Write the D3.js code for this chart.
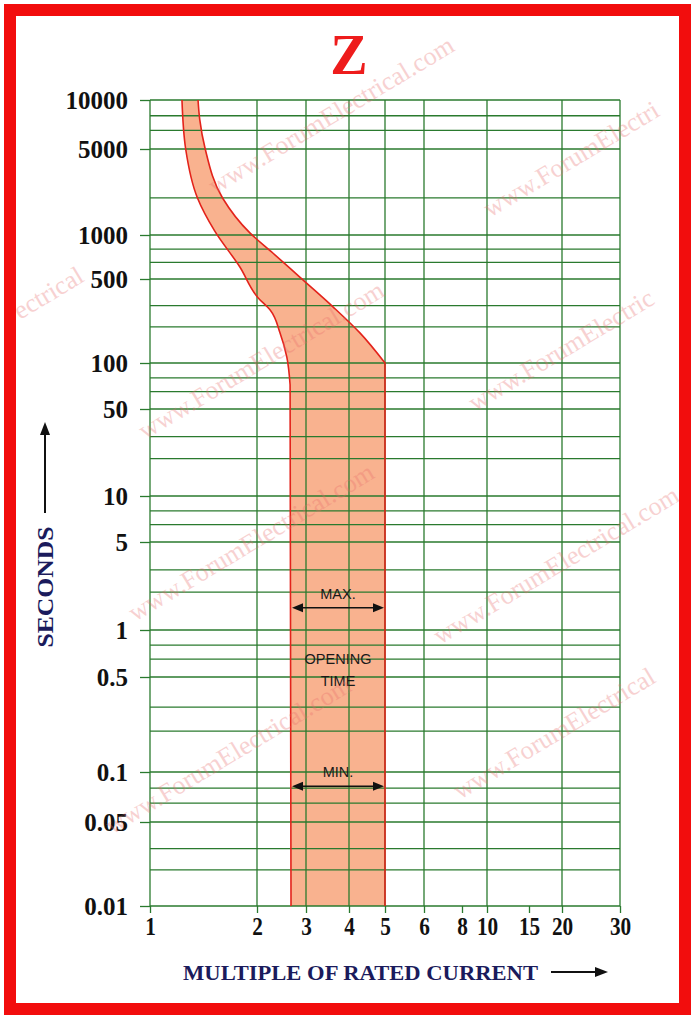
<html lang="en">
<head>
<meta charset="UTF-8">
<script src="https://d3js.org/d3.v7.min.js"></script>
<style>
  body { margin: 0; background: #fff; }
  svg { display: block; }
</style>
</head>
<body>
<div id="chart"></div>
<script>
// x axis: multiple of rated current
const xTicks = [1, 2, 3, 4, 5, 6, 8, 10, 15, 20, 30];
const xGrid = [1, 2, 3, 4, 5, 6, 10, 20, 30];
// y axis: seconds
const yTicks = [10000, 5000, 1000, 500, 100, 50, 10, 5, 1, 0.5, 0.1, 0.05, 0.01];
const yLabels = ["10000", "5000", "1000", "500", "100", "50", "10", "5", "1", "0.5", "0.1", "0.05", "0.01"];
const yGrid = [0.01, 0.02, 0.03, 0.05, 0.065, 0.08,
               0.1, 0.2, 0.3, 0.5, 0.65, 0.8,
               1, 2, 3, 5, 6.5, 8,
               10, 20, 30, 50, 65, 80,
               100, 200, 300, 500, 650, 800,
               1000, 2000, 5000, 6500, 8000, 10000];

// opening time band (Z curve)
const minCurrent = [1.23, 1.26, 1.36, 1.52, 1.79, 2.02, 2.23, 2.42, 2.56, 2.63, 2.65];
const minTime    = [10000, 5000, 2000, 1080, 604, 348, 276, 178, 112, 72, 0.01];
const maxCurrent = [1.365, 1.38, 1.43, 1.60, 1.91, 2.28, 2.85, 3.6, 4.28, 5, 5];
const maxTime    = [10000, 7600, 5000, 2000, 1040, 753, 515, 292, 178, 100, 0.01];

// annotation arrows (seconds)
const arrowTimes = [1.5, 0.082];
const arrowLabels = ["MAX.", "MIN."];

const W = 695, H = 1024;
const svg = d3.select("#chart").append("svg").attr("width", W).attr("height", H);
svg.append("rect").attr("width", W).attr("height", H).attr("fill", "#fff");

// piecewise log scales, chart paper is not a perfect log grid
const x = d3.scaleLog()
  .domain(xTicks)
  .range([150, 257, 306, 349, 385, 424, 462, 487, 529, 562, 620]);
const y = d3.scaleLog()
  .domain(yTicks)
  .range([100, 149, 235, 279, 363, 409, 496, 542, 630, 677, 772, 822, 906]);

const green = "#2a7a2e";

// band
const minPts = minCurrent.map((c, i) => [c, minTime[i]]);
const maxPts = maxCurrent.map((c, i) => [c, maxTime[i]]);
const edge = d3.line().x(d => x(d[0])).y(d => y(d[1])).curve(d3.curveMonotoneY);
function edgePath(pts) {
  const last = pts[pts.length - 1];
  return edge(pts.slice(0, -1)) + `L${x(last[0])},${y(last[1])}`;
}
const maxLast = maxPts[maxPts.length - 1];
const fillD = edgePath(minPts) + `L${x(maxLast[0])},${y(maxLast[1])}` +
  edge(maxPts.slice(0, -1).reverse()).replace(/^M/, "L") + "Z";

svg.append("path").attr("d", fillD).attr("fill", "#f9b28f");

// grid
const grid = svg.append("g").attr("stroke", green).attr("stroke-width", 1.3);
grid.selectAll(".h").data(yGrid).enter().append("line")
  .attr("x1", x(1)).attr("x2", x(30))
  .attr("y1", d => y(d)).attr("y2", d => y(d));
grid.selectAll(".v").data(xGrid).enter().append("line")
  .attr("x1", d => x(d)).attr("x2", d => x(d))
  .attr("y1", y(10000)).attr("y2", y(0.01));

// band edges on top of grid
svg.append("path").attr("d", edgePath(minPts)).attr("fill", "none")
  .attr("stroke", "#e3231b").attr("stroke-width", 1.6);
svg.append("path").attr("d", edgePath(maxPts)).attr("fill", "none")
  .attr("stroke", "#e3231b").attr("stroke-width", 1.6);

// axes
const yAxis = svg.append("g").attr("transform", `translate(${x(1)},0)`)
  .call(d3.axisLeft(y).tickValues(yTicks).tickSize(10).tickFormat((d, i) => yLabels[i]));
yAxis.select(".domain").remove();
yAxis.selectAll(".tick line").attr("stroke", green).attr("stroke-width", 1.3);
yAxis.selectAll(".tick text")
  .attr("x", -22).attr("dy", "0.34em")
  .attr("font-family", "'Liberation Serif', serif").attr("font-weight", "bold")
  .attr("font-size", 25).attr("fill", "#111");

const xAxis = svg.append("g").attr("transform", `translate(0,${y(0.01)})`)
  .call(d3.axisBottom(x).tickValues(xTicks).tickSize(7).tickFormat(d3.format("d")));
xAxis.select(".domain").remove();
xAxis.selectAll(".tick line").attr("stroke", green).attr("stroke-width", 1.3);
xAxis.selectAll(".tick text")
  .attr("y", null).attr("dy", null)
  .attr("transform", "translate(0,29) scale(0.85,1)")
  .attr("font-family", "'Liberation Serif', serif").attr("font-weight", "bold")
  .attr("font-size", 25).attr("fill", "#111");

// annotations inside band
const aX0 = x(minCurrent[minCurrent.length - 1]) + 1, aX1 = x(5) - 1;
const ann = svg.append("g");
arrowTimes.forEach((t, i) => {
  const ay = y(t);
  ann.append("line").attr("x1", aX0 + 8).attr("x2", aX1 - 8).attr("y1", ay).attr("y2", ay)
    .attr("stroke", "#111").attr("stroke-width", 1.5);
  ann.append("path").attr("d", `M${aX0},${ay}l11,-4.5v9z M${aX1},${ay}l-11,-4.5v9z`).attr("fill", "#111");
  ann.append("text").attr("x", (aX0 + aX1) / 2).attr("y", ay - 9)
    .attr("text-anchor", "middle").attr("font-family", "'Liberation Sans', Arial, sans-serif")
    .attr("font-size", 14.5).attr("fill", "#1a1a1a").text(arrowLabels[i]);
});
["OPENING", "TIME"].forEach((s, i) => {
  ann.append("text").attr("x", (aX0 + aX1) / 2).attr("y", 664 + i * 22)
    .attr("text-anchor", "middle").attr("font-family", "'Liberation Sans', Arial, sans-serif")
    .attr("font-size", 14.5).attr("fill", "#1a1a1a").text(s);
});

// title
svg.append("text").attr("x", 349).attr("y", 74).attr("text-anchor", "middle")
  .attr("font-family", "'Liberation Serif', serif").attr("font-weight", "bold")
  .attr("font-size", 56).attr("fill", "#ee1c1c").text("Z");

// axis titles
const navy = "#1b1b5c";
svg.append("text").attr("transform", "translate(53,587) rotate(-90)")
  .attr("text-anchor", "middle").attr("font-family", "'Liberation Serif', serif")
  .attr("font-weight", "bold").attr("font-size", 24).attr("fill", navy)
  .attr("textLength", 121).attr("lengthAdjust", "spacingAndGlyphs").text("SECONDS");
svg.append("line").attr("x1", 45).attr("x2", 45).attr("y1", 513).attr("y2", 432)
  .attr("stroke", "#111").attr("stroke-width", 2);
svg.append("path").attr("d", "M45,422l-5,13h10z").attr("fill", "#111");

svg.append("text").attr("x", 183).attr("y", 980)
  .attr("font-family", "'Liberation Serif', serif")
  .attr("font-weight", "bold").attr("font-size", 22).attr("fill", navy)
  .attr("textLength", 355).attr("lengthAdjust", "spacingAndGlyphs").text("MULTIPLE OF RATED CURRENT");
svg.append("line").attr("x1", 551).attr("x2", 597).attr("y1", 972).attr("y2", 972)
  .attr("stroke", "#111").attr("stroke-width", 2);
svg.append("path").attr("d", "M608,972l-13,-5v10z").attr("fill", "#111");

// watermarks (only the parts visible inside the frame)
const wmStarts = [[215, 195], [490, 218], [20, 320], [145, 440], [475, 412],
                  [135, 622], [440, 645], [112, 835], [460, 800]];
const wmTexts = ["www.ForumElectrical.com", "www.ForumElectri", "ectrical",
                 "www.ForumElectrical.com", "www.ForumElectric",
                 "www.ForumElectrical.com", "www.ForumElectrical.com",
                 "www.ForumElectrical.com", "www.ForumElectrical"];
svg.append("g").selectAll("text").data(wmStarts).enter().append("text")
  .attr("transform", d => `translate(${d[0]},${d[1]}) rotate(-31)`)
  .attr("font-family", "'Liberation Serif', serif").attr("font-size", 26)
  .attr("fill", "#e86a6a").attr("opacity", 0.3)
  .text((d, i) => wmTexts[i]);

// frame
svg.append("rect").attr("x", 10).attr("y", 10).attr("width", 675).attr("height", 999)
  .attr("fill", "none").attr("stroke", "#f20d0d").attr("stroke-width", 12);
</script>
</body>
</html>
